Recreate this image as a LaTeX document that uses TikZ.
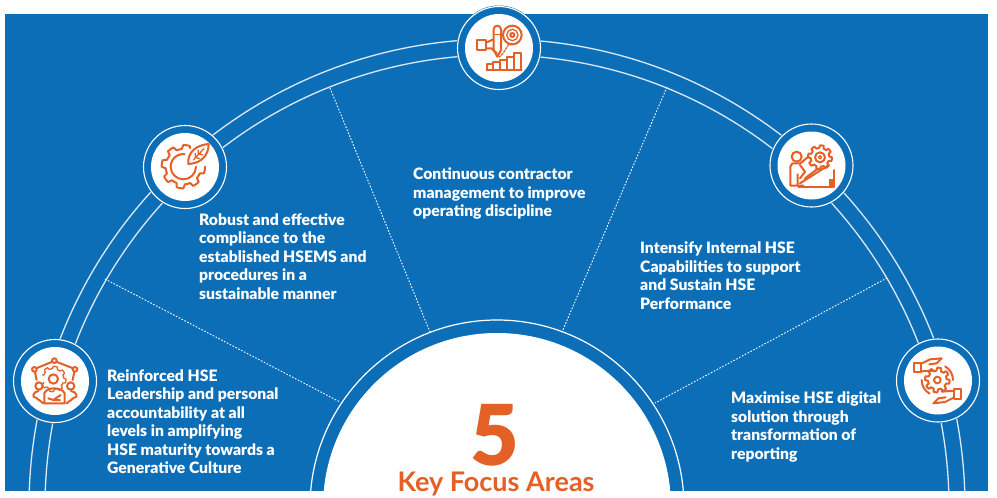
\documentclass[tikz,border=0pt]{standalone}
\usepackage{fontspec}
\setmainfont{Lato}
\newfontfamily\heavyfont{Lato Black}
\usetikzlibrary{positioning,calc}
\definecolor{hseblue}{HTML}{0D6EB8}
\definecolor{hseorange}{HTML}{E36026}
\tikzset{
    focustext/.style={text=white, align=left, anchor=north west, inner sep=0pt,
        font=\heavyfont\fontsize{15.7}{18.5}\selectfont},
    arcline/.style={draw=white!85!hseblue, line width=1.3pt},
    sepline/.style={draw=white, line width=0.9pt, dash pattern=on 1.6pt off 1.6pt},
    icon/.style={draw=hseorange, line width=2pt, line join=round, line cap=round},
    thinicon/.style={draw=hseorange, line width=1.3pt, line join=round, line cap=round},
}
% polar square wave, for the cogs
\newcommand{\cogpath}[7]{plot[smooth, samples=#7, domain=#5:#6, variable=\t]
    ({#1+(#4+(#3-#4)/2*(1+max(-1,min(1,3*sin(8*\t+20)))))*cos(\t)},
     {#2+(#4+(#3-#4)/2*(1+max(-1,min(1,3*sin(8*\t+20)))))*sin(\t)})}
\begin{document}
\begin{tikzpicture}[x=1pt,y=-1pt]
    \useasboundingbox (0,0) rectangle (997,498);
    % Background
    \fill[hseblue] (5,14) rectangle (988,491);

    % Arcs
    \begin{scope}
        \clip (5,14) rectangle (988,491);
        \coordinate (mid) at (497,507);
        \draw[arcline] (mid) circle[radius=468pt];
        \draw[arcline] (mid) circle[radius=452pt];
        \draw[draw=white, line width=1.2pt] (mid) circle[radius=187pt];
        \fill[white] (mid) circle[radius=174pt];
    \end{scope}

    % Dotted separators
    \coordinate (s1a) at (105,279); \coordinate (s1b) at (340,402);
    \coordinate (s2a) at (330,88);  \coordinate (s2b) at (430,332);
    \coordinate (s3a) at (667,87);  \coordinate (s3b) at (562,332);
    \coordinate (s4a) at (887,278); \coordinate (s4b) at (655,403);
    \draw[sepline] (s1a) -- (s1b);
    \draw[sepline] (s2a) -- (s2b);
    \draw[sepline] (s3a) -- (s3b);
    \draw[sepline] (s4a) -- (s4b);

    % Icon discs
    \foreach \name/\px/\py in {top/499/48, lefttop/185/167, righttop/811.5/165.5, leftlow/55/381, rightlow/938/380.5} {
        \fill[hseblue] (\px,\py) circle[radius=42.5pt];
        \draw[draw=white, line width=1.1pt] (\px,\py) circle[radius=41.5pt];
        \node[circle, fill=white, minimum size=68pt, inner sep=0pt] (\name) at (\px,\py) {};
    }

    % Icon top
    \begin{scope}[shift={(440,0)},scale=1/3]
        \draw[icon] (110,120) rectangle (138,150);
        \draw[icon] (138,128) -- (160,118) (138,145) -- (155,145) -- (170,160);
        \draw[icon] (161,150) -- (161,88) arc[start angle=180, end angle=360, radius=11] -- (183,150) -- (172,170) -- cycle;
        \draw[thinicon] (161,104) -- (183,104);
        \draw[icon] (217,105) circle[radius=28];
        \draw[thinicon] (217,105) circle[radius=17];
        \draw[icon] (217,105) circle[radius=6];
        \draw[thinicon, dash pattern=on 2pt off 1.5pt] (212,135) to[out=100,in=20] (175,172);
        \draw[icon] (140,210) -- (245,210);
        \draw[icon] (142,210) -- (142,192) -- (160,192) -- (160,210);
        \draw[icon] (160,210) -- (160,187) -- (181,187) -- (181,210);
        \draw[icon] (181,210) -- (181,180) -- (202,180) -- (202,210);
        \draw[icon] (202,210) -- (202,172) -- (223,172) -- (223,210);
        \draw[icon] (223,210) -- (223,160) -- (244,160) -- (244,210);
    \end{scope}

    % Icon left top
    \begin{scope}[shift={(130,110)},scale=1/3]
        \draw[icon] \cogpath{160}{170}{65}{53}{0}{290}{181};
        \draw[icon] (198,170) arc[start angle=0, end angle=275, radius=38];
        \draw[icon, fill=white] (175,162) .. controls (172,125) and (200,105) .. (236,102)
            .. controls (236,135) and (215,160) .. (175,162) -- cycle;
        \draw[thinicon] (190,150) -- (222,116) (205,132) -- (205,120) (205,132) -- (218,134) (196,142) -- (196,130) (196,142) -- (208,146);
    \end{scope}

    % Icon right top
    \begin{scope}[shift={(755,115)},scale=1/3]
        \draw[icon] (125,125) circle[radius=15];
        \draw[icon] (135,145) -- (112,145) -- (106,155) -- (106,212) -- (145,212) -- (128,212) -- (128,178);
        \draw[icon] (136,145) -- (160,125);
        \draw[icon] (135,150) -- (150,170) -- (135,190);
        \draw[icon] (150,190) -- (190,160);
        \draw[icon] (135,205) -- (222,150);
        \draw[icon] (130,215) -- (236,215) -- (236,165);
        \fill[hseorange] (222,192) rectangle (237,216);
        \draw[icon] \cogpath{195}{127}{36}{28}{0}{360}{241};
        \draw[icon] (195,127) circle[radius=15];
        \draw[thinicon] (195,127) circle[radius=5];
    \end{scope}

    % Icon left low
    \begin{scope}[shift={(0,330)},scale=1/3]
        \draw[icon] (103,118) circle[radius=7] (163,92) circle[radius=7] (225,118) circle[radius=7];
        \draw[icon] (111,114) -- (155,96) (171,96) -- (217,114) (105,126) -- (110,150) (223,126) -- (218,150);
        \draw[thinicon] \cogpath{160}{147}{38}{31}{200}{520}{181};
        \draw[icon] (160,147) circle[radius=14];
        \draw[icon] (117,168) circle[radius=11] (212,168) circle[radius=11];
        \draw[icon] (130,220) -- (108,203) .. controls (95,205) and (98,185) .. (115,183);
        \draw[icon] (200,220) -- (222,203) .. controls (235,205) and (232,185) .. (213,183);
        \draw[icon] (133,220) -- (133,190) .. controls (140,170) and (185,170) .. (194,190) -- (194,220) -- cycle;
        \draw[icon] (145,205) -- (160,210) -- (182,195) (160,210) -- (180,210);
    \end{scope}

    % Icon right low
    \begin{scope}[shift={(880,330)},scale=1/3]
        \draw[icon] \cogpath{172}{150}{37}{28}{0}{360}{241};
        \draw[icon] (172,150) circle[radius=10];
        \draw[icon] (125,150) arc[start angle=180, end angle=120, radius=47];
        \draw[icon] (219,150) arc[start angle=0, end angle=-60, radius=47];
        \draw[icon] (102,98) rectangle (122,127);
        \draw[icon] (122,102) -- (150,88) -- (185,85) -- (170,100) -- (148,103);
        \draw[icon] (122,124) -- (160,122);
        \draw[icon] (243,177) rectangle (223,206);
        \draw[icon] (223,202) -- (195,216) -- (160,220) -- (175,205) -- (197,202);
        \draw[icon] (223,182) -- (185,185);
    \end{scope}

    % Labels
    \node[focustext] (reinforced) at (107,369) {Reinforced HSE\\Leadership and personal\\accountability at all\\levels in amplifying\\HSE maturity towards a\\Generative Culture};
    \node[focustext] (robust) at (199,213) {Robust and effective\\compliance to the\\established HSEMS and\\procedures in a\\sustainable manner};
    \node[focustext] (contractor) at (413,167.5) {Continuous contractor\\management to improve\\operating discipline};
    \node[focustext] (capability) at (640,241.5) {Intensify Internal HSE\\Capabilities to support\\and Sustain HSE\\Performance};
    \node[focustext] (digital) at (731,391.5) {Maximise HSE digital\\solution through\\transformation of\\reporting};

    % Centre title
    \node[text=hseorange, font=\heavyfont\fontsize{84}{84}\selectfont, inner sep=0pt] (five) at (495,435) {5};
    \node[text=hseorange, font=\bfseries\fontsize{27}{27}\selectfont, inner sep=0pt] (title) at (496,484) {Key Focus Areas};
\end{tikzpicture}
\end{document}
